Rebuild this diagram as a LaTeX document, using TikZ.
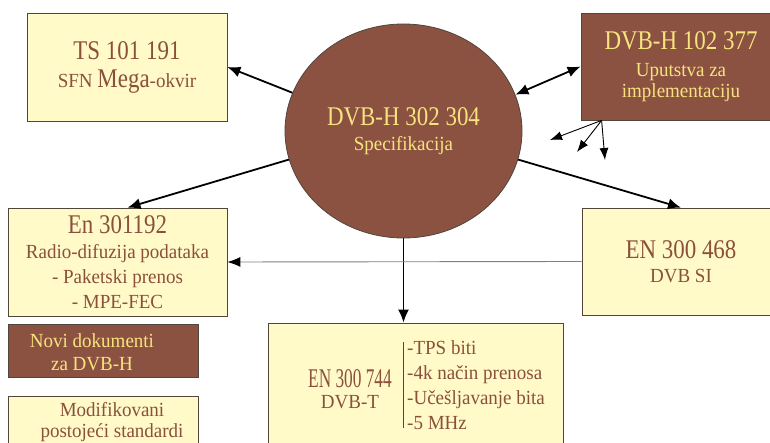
\documentclass[tikz,border=0pt]{standalone}
\usepackage{fontspec}
\setmainfont{Liberation Serif}
\newfontfamily\bodyserif{Liberation Serif}[FakeStretch=0.95]
\newfontfamily\titleserif{Liberation Serif}[FakeStretch=0.85]
\newfontfamily\narrowserif{Liberation Serif}[FakeStretch=0.64]
\usetikzlibrary{positioning, arrows.meta, shapes}

\definecolor{paleyellow}{RGB}{255,250,200}
\definecolor{docbrown}{RGB}{139,82,66}
\definecolor{inkbrown}{RGB}{139,80,60}
\definecolor{inkyellow}{RGB}{247,228,125}
\definecolor{boxline}{RGB}{80,70,60}

\newcommand{\bigline}[1]{{\titleserif\fontsize{27}{30}\selectfont #1}}

\tikzset{
	oldbox/.style={draw=boxline, line width=0.8pt, fill=paleyellow, text=inkbrown, align=center, inner sep=0pt, font=\bodyserif\fontsize{20}{25}\selectfont},
	newbox/.style={oldbox, fill=docbrown, text=inkyellow},
	arr/.style={-{Latex[length=13pt,width=11pt]}, line width=1.8pt},
	thinarr/.style={-{Latex[length=12pt,width=9pt]}, line width=0.9pt}
}

\begin{document}
\begin{tikzpicture}[x=1pt, y=-1pt]
		\useasboundingbox (0,0) rectangle (770,443);
		\clip (0,0) rectangle (770,443);
		
		%Central specification
		\node (spec) at (403.5,131) [draw=boxline, line width=0.8pt, ellipse, fill=docbrown, 
		minimum width=237pt, minimum height=214pt, inner sep=0pt, text=inkyellow, align=center, 
		font=\bodyserif\fontsize{20}{25}\selectfont]{\bigline{DVB-H 302 304}\\ Specifikacija};
		
		%Documents round it
		\node (ts) at (127,67) [oldbox, minimum width=200pt, minimum height=108pt]
		{\bigline{TS 101 191}\\[3pt] SFN \bigline{Mega}-okvir};
		\node (dvbh) at (681,66.5) [newbox, minimum width=200pt, minimum height=107pt]
		{\bigline{DVB-H 102 377}\\[2pt] Uputstva za\\[-4pt] implementaciju};
		\node (en) at (117.5,262) [oldbox, minimum width=219pt, minimum height=108pt]
		{\bigline{En 301192}\\ Radio-difuzija podataka\\ - Paketski prenos\\ - MPE-FEC};
		\node (en468) at (681,261.5) [oldbox, minimum width=198pt, minimum height=107pt]
		{\bigline{EN 300 468}\\[-1pt] DVB SI};
		\node (en744) at (415.5,393) [oldbox, minimum width=295pt, minimum height=140pt]{};
		
		%Writing inside the DVB-T block
		\node (en744name) at (350,389) [text=inkbrown, align=center, inner sep=0pt, 
		font=\bodyserif\fontsize{20}{21}\selectfont]{{\narrowserif\fontsize{27}{30}\selectfont EN 300 744}\\ DVB-T};
		\node (en744list) at (407,385) [anchor=west, text=inkbrown, align=left, inner sep=0pt, 
		font=\bodyserif\fontsize{20}{25}\selectfont]{-TPS biti\\ -4k način prenosa\\ -Učešljavanje bita\\ -5 MHz};
		\draw[boxline, line width=0.8pt] (403,342) -- (403,428);
		
		%Legend
		\node (novi) at (103,350.5) [newbox, minimum width=190pt, minimum height=53pt]{};
		\node (novitext) at (92,352) [text=inkyellow, align=center, inner sep=0pt, 
		font=\bodyserif\fontsize{20}{23}\selectfont]{Novi dokumenti\\ za DVB-H};
		\node (modif) at (103,433) [oldbox, minimum width=190pt, minimum height=74pt]{};
		\node (modiftext) at (112,422.5) [text=inkbrown, align=center, inner sep=0pt, 
		font=\bodyserif\fontsize{20}{21}\selectfont]{Modifikovani\\ postojeći standardi};
		
		%Links among blocks
		\draw[arr] (spec.161) -- (ts.east);
		\draw[arr] (spec.194) -- ([xshift=10pt]en.north);
		\draw[arr] (spec.-14) -- (en468.north);
		\draw[arr, {Latex[length=13pt,width=11pt]}-{Latex[length=13pt,width=11pt]}] (spec.18.5) -- (dvbh.west);
		\draw[arr] (spec.south) -- (spec.south |- en744.north);
		\draw[-{Latex[length=13pt,width=10pt,color=black]}, gray, line width=0.9pt] (en468.west) -- (en.east);
		
		%Fan below the guidelines
		\coordinate (fan) at ([xshift=21pt]dvbh.south west);
		\coordinate (t1) at (550,140);
		\coordinate (t2) at (577,152);
		\coordinate (t3) at (605,160);
		\foreach \t in {t1,t2,t3}
		\draw[thinarr] (fan) -- (\t);
		
\end{tikzpicture}
\end{document}
